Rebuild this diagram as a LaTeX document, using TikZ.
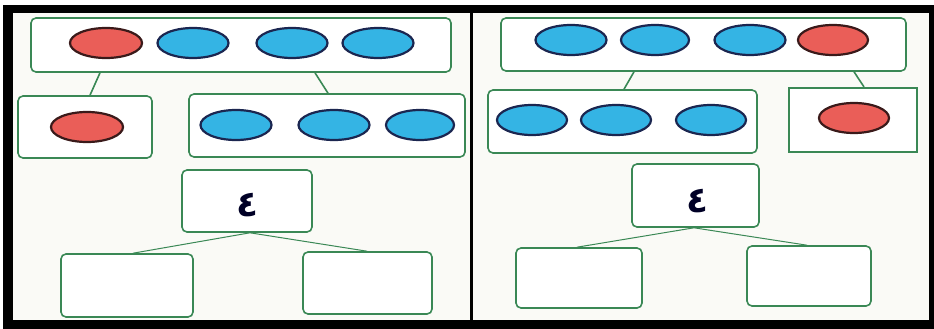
\documentclass[tikz,border=0pt]{standalone}
\usepackage{fontspec}
\newfontfamily\arabicfont[Script=Arabic]{DejaVu Sans}
\TeXXeTstate=1
\usetikzlibrary{shapes.geometric,calc}
\definecolor{boxgreen}{HTML}{3A8855}
\definecolor{ballblue}{HTML}{34B4E4}
\definecolor{ballred}{HTML}{EA5E58}
\definecolor{rimblue}{HTML}{1B2650}
\definecolor{rimred}{HTML}{3A1A1A}
\definecolor{paper}{HTML}{FAFAF6}
\tikzset{
  grpbox/.style={draw=boxgreen, line width=1.6pt, rounded corners=5pt, fill=white, inner sep=0pt},
  sqbox/.style={draw=boxgreen, line width=2.2pt, fill=white, inner sep=0pt},
  bball/.style={ellipse, draw=rimblue, line width=2.2pt, fill=ballblue, minimum width=71pt, minimum height=30pt, inner sep=0pt},
  rball/.style={ellipse, draw=rimred, line width=2.2pt, fill=ballred, minimum width=72pt, minimum height=30pt, inner sep=0pt},
  link/.style={draw=boxgreen, line width=1.6pt},
  thin link/.style={draw=boxgreen, line width=1pt},
  numtxt/.style={font=\arabicfont\bfseries\fontsize{36}{40}\selectfont, text=black!85!blue}
}
\begin{document}
\begin{tikzpicture}[x=1pt,y=-1pt]
\useasboundingbox (0,0) rectangle (934,329);
\fill[white] (0,0) rectangle (934,329);
% frame
\fill[black] (3,5) rectangle (934,329);
\fill[paper] (13,13) rectangle (929,320);
\fill[black] (470,13) rectangle (473,320);

% ---------- left panel ----------
\node[grpbox, minimum width=420pt, minimum height=54pt] (LT) at (241,45) {};
\node[rball] (LT1) at (106,43) {};
\node[bball] (LT2) at (193,43) {};
\node[bball] (LT3) at (292,43) {};
\node[bball] (LT4) at (378,43) {};

\node[grpbox, minimum width=134pt, minimum height=62pt] (LA) at (85,127) {};
\node[rball] (LA1) at (87,127) {};
\node[grpbox, minimum width=276pt, minimum height=63pt] (LB) at (327,125.5) {};
\node[bball] (LB1) at (236,125) {};
\node[bball] (LB2) at (334,125) {};
\node[bball, minimum width=68pt] (LB3) at (420,125) {};

\draw[link] ([xshift=-141pt]LT.south) -- ([xshift=5pt]LA.north);
\draw[link] ([xshift=74pt]LT.south) -- ([xshift=1pt]LB.north);

\node[grpbox, minimum width=130pt, minimum height=62pt] (LN) at (247,201) {};
\node[numtxt] (LNt) at (247,205) {\beginR ٤\endR};
\node[grpbox, minimum width=132pt, minimum height=63pt] (LC) at (127,285.5) {};
\node[grpbox, minimum width=129pt, minimum height=62pt] (LD) at (367.5,283) {};
\draw[thin link] ([xshift=3pt]LN.south) -- ([xshift=6pt]LC.north);
\draw[thin link] ([xshift=3pt]LN.south) -- ([xshift=-0.5pt]LD.north);

% ---------- right panel ----------
\node[grpbox, minimum width=405pt, minimum height=53pt] (RT) at (703.5,44.5) {};
\node[bball] (RT1) at (571,40) {};
\node[bball, minimum width=68pt] (RT2) at (655,40) {};
\node[bball] (RT3) at (750,40) {};
\node[rball, minimum width=70pt] (RT4) at (833,40) {};

\node[grpbox, minimum width=269pt, minimum height=63pt] (RA) at (622.5,121.5) {};
\node[bball, minimum width=70pt] (RA1) at (532,120) {};
\node[bball, minimum width=70pt] (RA2) at (616,120) {};
\node[bball, minimum width=70pt] (RA3) at (711,120) {};
\node[sqbox, minimum width=128pt, minimum height=64pt] (RB) at (853,120) {};
\node[rball, minimum width=70pt] (RB1) at (854,118) {};

\draw[link] ([xshift=-69.5pt]RT.south) -- ([xshift=1.5pt]RA.north);
\draw[link] ([xshift=150.5pt]RT.south) -- ([xshift=11pt]RB.north);

\node[grpbox, minimum width=127pt, minimum height=63pt] (RN) at (695.5,195.5) {};
\node[numtxt] (RNt) at (697,201) {\beginR ٤\endR};
\node[grpbox, minimum width=126pt, minimum height=60pt] (RC) at (579,278) {};
\node[grpbox, minimum width=124pt, minimum height=60pt] (RD) at (809,276) {};
\draw[thin link] ([xshift=-1.5pt]RN.south) -- ([xshift=-2pt]RC.north);
\draw[thin link] ([xshift=-1.5pt]RN.south) -- ([xshift=-2pt]RD.north);
\end{tikzpicture}
\end{document}
